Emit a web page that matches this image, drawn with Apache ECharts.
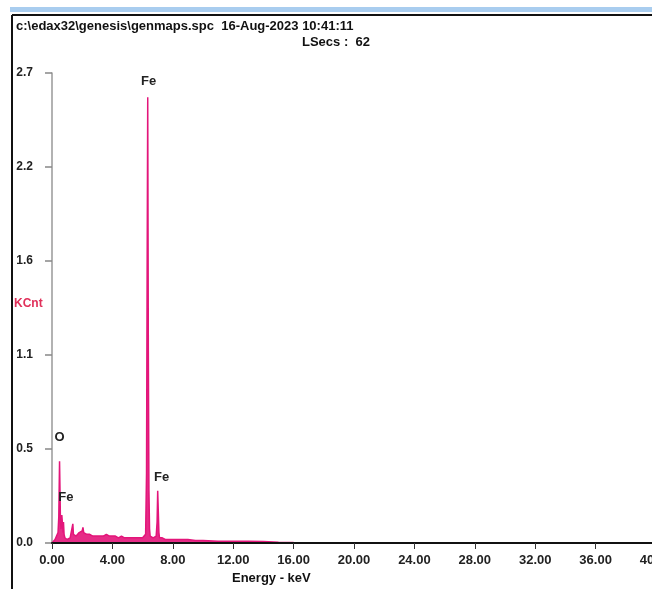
<!DOCTYPE html>
<html>
<head>
<meta charset="utf-8">
<script src="https://cdn.jsdelivr.net/npm/echarts@6/dist/echarts.min.js"></script>
<style>html,body{margin:0;padding:0;background:#fff;}#c{width:652px;height:589px;}</style>
</head>
<body>
<div id="c"></div>
<script>
// Energy (keV) and counts (KCnt)
const energy = [0.00,0.10,0.20,0.30,0.40,0.45,0.50,0.53,0.56,0.60,0.65,0.70,0.73,0.76,0.80,0.85,0.90,1.00,1.10,1.20,1.30,1.38,1.42,1.46,1.50,1.60,1.70,1.80,1.90,2.00,2.05,2.10,2.15,2.20,2.30,2.40,2.50,2.60,2.70,2.80,2.90,3.00,3.20,3.40,3.60,3.80,4.00,4.20,4.40,4.60,4.80,5.00,5.20,5.40,5.60,5.80,6.00,6.10,6.20,6.26,6.30,6.34,6.38,6.42,6.46,6.50,6.55,6.60,6.70,6.80,6.90,6.96,7.00,7.04,7.08,7.12,7.20,7.30,7.50,7.80,8.00,8.50,9.00,9.50,10.0,11.0,12.0,13.0,14.0,15.0,16.0,17.0,18.0,20.0,25.0,30.0,40.0];
const kcnt   = [0.00,0.01,0.02,0.03,0.06,0.15,0.47,0.30,0.12,0.08,0.16,0.10,0.06,0.12,0.05,0.03,0.02,0.02,0.03,0.03,0.04,0.11,0.05,0.04,0.05,0.04,0.05,0.06,0.05,0.07,0.09,0.06,0.05,0.06,0.05,0.06,0.05,0.05,0.04,0.05,0.04,0.05,0.04,0.04,0.05,0.04,0.04,0.04,0.03,0.04,0.03,0.03,0.03,0.03,0.03,0.03,0.03,0.03,0.05,0.40,1.55,2.56,1.10,0.30,0.08,0.04,0.03,0.03,0.03,0.03,0.04,0.12,0.30,0.18,0.06,0.03,0.02,0.03,0.02,0.02,0.02,0.02,0.02,0.015,0.015,0.01,0.01,0.01,0.008,0.005,0.003,0.002,0.001,0.00,0.00,0.00,0.00];
const yTicks = [0, 0.54, 1.08, 1.62, 2.16, 2.7];
const peakLabels = [
  {name: 'Fe', e: 6.40, v: 2.56},
  {name: 'O',  e: 0.50, v: 0.47},
  {name: 'Fe', e: 0.65, v: 0.16},
  {name: 'Fe', e: 7.00, v: 0.30}
];
const peakOffsets = [[0,-4],[0,-12],[4,-6],[4,-2]];

const FONT = '"Liberation Sans", Arial, sans-serif';
const chart = echarts.init(document.getElementById('c'), null, {renderer: 'canvas'});
const data = energy.map((e, i) => [e, kcnt[i]]);

chart.setOption({
  animation: false,
  backgroundColor: '#ffffff',
  grid: {left: 52, right: -4, top: 73, bottom: 46, containLabel: false, outerBoundsMode: 'none'},
  xAxis: {
    type: 'value', min: 0, max: 40, interval: 4, z: 5,
    axisLine: {show: true, lineStyle: {color: '#111', width: 2}},
    axisTick: {show: true, length: 6, lineStyle: {color: '#333', width: 1}},
    axisLabel: {color: '#222', fontFamily: FONT, fontWeight: 'bold', fontSize: 13, margin: 11,
      formatter: v => v.toFixed(2)},
    splitLine: {show: false}
  },
  yAxis: {
    type: 'value', min: 0, max: 2.7, interval: 0.54,
    axisLine: {show: true, onZero: false, lineStyle: {color: '#999', width: 1.5}},
    axisTick: {show: true, length: 7, lineStyle: {color: '#888', width: 1.5}},
    axisLabel: {color: '#222', fontFamily: FONT, fontWeight: 'bold', fontSize: 12, margin: 19,
      formatter: v => v.toFixed(1)},
    splitLine: {show: false}
  },
  series: [{
    type: 'line', data: data, symbol: 'none', smooth: false, z: 2,
    lineStyle: {color: '#e3157a', width: 1.5},
    areaStyle: {color: '#e3157a', opacity: 0.9},
    markPoint: {
      symbol: 'circle', symbolSize: 0,
      data: peakLabels.map((p, i) => ({
        coord: [p.e, p.v], value: p.name,
        label: {show: true, formatter: p.name, position: 'top', offset: peakOffsets[i],
          color: '#222', fontFamily: FONT, fontWeight: 'bold', fontSize: 13}
      }))
    }
  }],
  graphic: [
    {type: 'rect', shape: {x: 10, y: 7, width: 650, height: 5}, style: {fill: '#a9cdef'}},
    {type: 'line', shape: {x1: 12, y1: 15, x2: 660, y2: 15}, style: {stroke: '#111', lineWidth: 2}},
    {type: 'line', shape: {x1: 12, y1: 15, x2: 12, y2: 600}, style: {stroke: '#111', lineWidth: 2}},
    {type: 'text', left: 16, top: 20, style: {text: 'c:\\edax32\\genesis\\genmaps.spc  16-Aug-2023 10:41:11',
      fill: '#111', font: 'bold 13px ' + FONT}},
    {type: 'text', left: 302, top: 36, style: {text: 'LSecs :  62', fill: '#111', font: 'bold 13px ' + FONT}},
    {type: 'text', left: 14, top: 298, style: {text: 'KCnt', fill: '#e0305a', font: 'bold 12px ' + FONT}},
    {type: 'text', left: 232, top: 572, style: {text: 'Energy - keV', fill: '#111', font: 'bold 13px ' + FONT}}
  ]
});
</script>
</body>
</html>
